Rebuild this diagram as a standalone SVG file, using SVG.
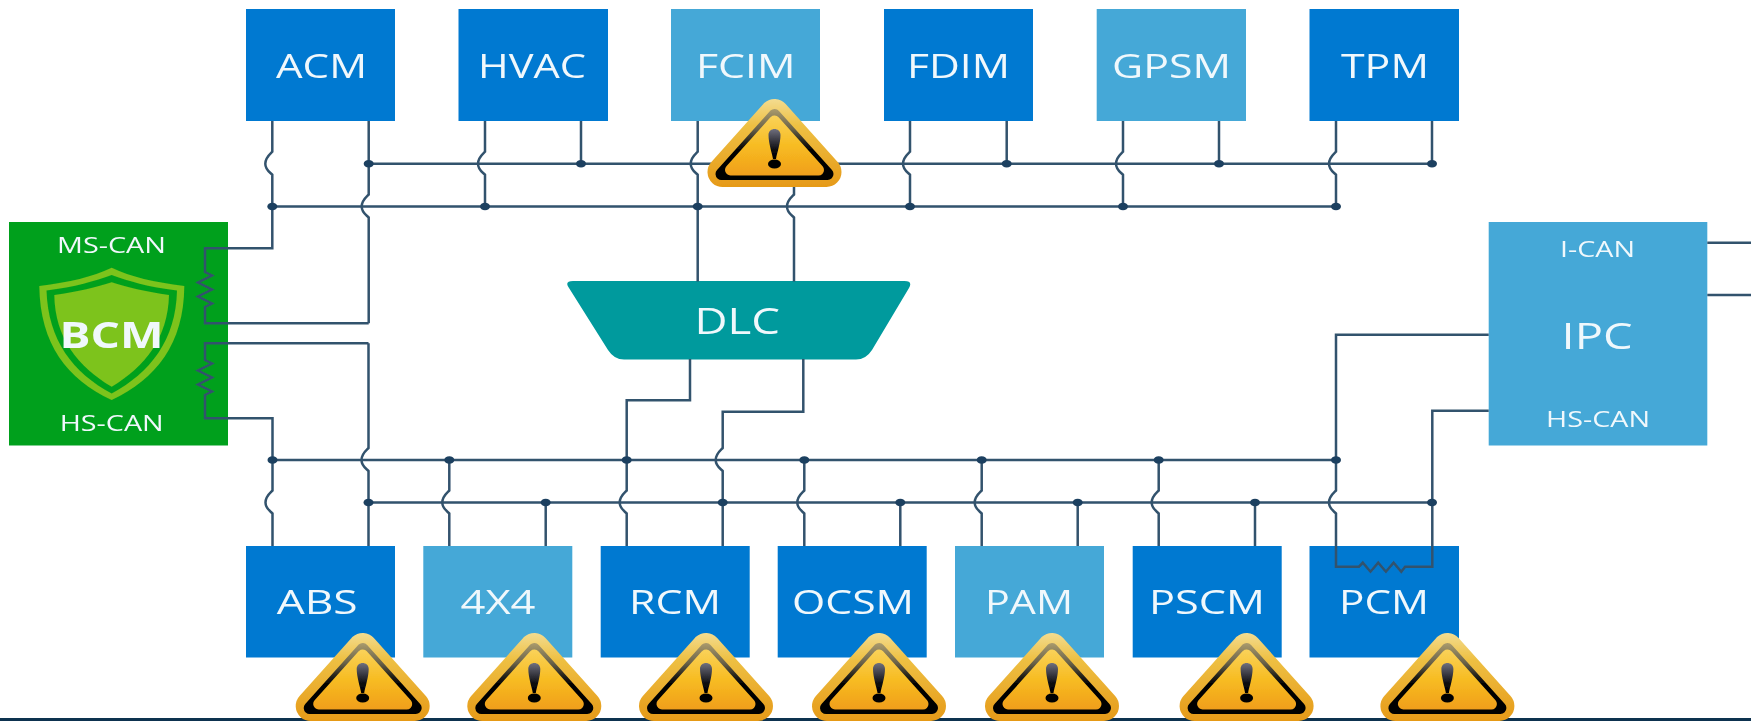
<svg xmlns="http://www.w3.org/2000/svg" width="1751" height="721" viewBox="0 0 1751 721">
<style>
.dk{fill:#0379d1}
.lt{fill:#44a8d7}
text{font-family:"Open Sans","Noto Sans","Liberation Sans",sans-serif;fill:#f0f8fc}
.lb{font-size:33px}
.sm{font-size:21.5px}
.wire{fill:none;stroke:#33526d;stroke-width:2.5;stroke-linejoin:miter}
.dot{fill:#1f4160}
</style>
<defs>
<filter id="soft" x="0" y="0" width="100%" height="100%" filterUnits="objectBoundingBox"><feGaussianBlur stdDeviation="0.5"/></filter>
<linearGradient id="gold" gradientUnits="userSpaceOnUse" x1="0" y1="0" x2="0" y2="88"><stop offset="0" stop-color="#f3dc90"/><stop offset="0.3" stop-color="#eec043"/><stop offset="1" stop-color="#e69a18"/></linearGradient>
<linearGradient id="fillY" gradientUnits="userSpaceOnUse" x1="0" y1="15" x2="0" y2="78"><stop offset="0" stop-color="#fad35c"/><stop offset="0.5" stop-color="#f7bc22"/><stop offset="1" stop-color="#f09d1a"/></linearGradient>
<linearGradient id="ring" gradientUnits="userSpaceOnUse" x1="0" y1="8" x2="0" y2="81"><stop offset="0" stop-color="#b0a070"/><stop offset="0.3" stop-color="#6a6249"/><stop offset="0.48" stop-color="#24221a"/><stop offset="0.6" stop-color="#000"/><stop offset="1" stop-color="#000"/></linearGradient>
<linearGradient id="excl" x1="0" y1="0" x2="0" y2="1"><stop offset="0" stop-color="#70707e"/><stop offset="0.7" stop-color="#0a0a0e"/><stop offset="1" stop-color="#000"/></linearGradient>
<g id="warn">
<path d="M0 15L-52 73H52Z" fill="url(#gold)" stroke="url(#gold)" stroke-width="30" stroke-linejoin="round"/>
<path d="M0 16L-53 75H53Z" fill="url(#ring)" stroke="url(#ring)" stroke-width="12" stroke-linejoin="round"/>
<path d="M0 22L-44 71H44Z" fill="url(#fillY)" stroke="url(#fillY)" stroke-width="11" stroke-linejoin="round"/>
<path d="M-6 36C-6 28 6 28 6 36C6 44 2.5 54 1.5 60H-1.5C-2.5 54 -6 44 -6 36Z" fill="url(#excl)"/>
<ellipse cx="0" cy="65" rx="6.5" ry="4.5" fill="#000"/>
</g>
</defs>
<rect width="1751" height="721" fill="#fff"/>
<g filter="url(#soft)">
<rect id="bottom-bar" x="0" y="718" width="1751" height="4" fill="#0d3350"/>

<g id="ACM"><rect class="dk" x="246" y="9" width="149" height="112"/><text class="lb" x="276" y="78.3" textLength="91" lengthAdjust="spacingAndGlyphs">ACM</text></g>
<g id="HVAC"><rect class="dk" x="458.5" y="9" width="149.5" height="112"/><text class="lb" x="478" y="78.3" textLength="108" lengthAdjust="spacingAndGlyphs">HVAC</text></g>
<g id="FCIM"><rect class="lt" x="671" y="9" width="149" height="112"/><text class="lb" x="696" y="78.3" textLength="99.5" lengthAdjust="spacingAndGlyphs">FCIM</text></g>
<g id="FDIM"><rect class="dk" x="884" y="9" width="149" height="112"/><text class="lb" x="907" y="78.3" textLength="103" lengthAdjust="spacingAndGlyphs">FDIM</text></g>
<g id="GPSM"><rect class="lt" x="1096.7" y="9" width="149.3" height="112"/><text class="lb" x="1112" y="78.3" textLength="119" lengthAdjust="spacingAndGlyphs">GPSM</text></g>
<g id="TPM"><rect class="dk" x="1309.5" y="9" width="149.5" height="112"/><text class="lb" x="1341" y="78.3" textLength="88" lengthAdjust="spacingAndGlyphs">TPM</text></g>

<g id="ABS"><rect class="dk" x="246" y="546" width="149" height="111.5"/><text class="lb" x="276.7" y="613.5" textLength="81" lengthAdjust="spacingAndGlyphs">ABS</text></g>
<g id="4X4"><rect class="lt" x="423.3" y="546" width="149" height="111.5"/><text class="lb" x="460.5" y="613.5" textLength="75" lengthAdjust="spacingAndGlyphs">4X4</text></g>
<g id="RCM"><rect class="dk" x="600.7" y="546" width="149" height="111.5"/><text class="lb" x="629" y="613.5" textLength="92" lengthAdjust="spacingAndGlyphs">RCM</text></g>
<g id="OCSM"><rect class="dk" x="777.7" y="546" width="149" height="111.5"/><text class="lb" x="792" y="613.5" textLength="122" lengthAdjust="spacingAndGlyphs">OCSM</text></g>
<g id="PAM"><rect class="lt" x="955" y="546" width="149" height="111.5"/><text class="lb" x="985" y="613.5" textLength="88" lengthAdjust="spacingAndGlyphs">PAM</text></g>
<g id="PSCM"><rect class="dk" x="1132.7" y="546" width="149" height="111.5"/><text class="lb" x="1149" y="613.5" textLength="116" lengthAdjust="spacingAndGlyphs">PSCM</text></g>
<g id="PCM"><rect class="dk" x="1309.5" y="546" width="149.5" height="111.5"/><text class="lb" x="1339" y="613.5" textLength="90" lengthAdjust="spacingAndGlyphs">PCM</text></g>

<g id="DLC"><path d="M573 281H904.5Q913 281 909 288L872 350Q866 359.5 856 359.5H624Q614 359.5 608 350L569 288Q564 281 573 281Z" fill="#009a9d"/><text x="694.5" y="333.5" font-size="37" textLength="85.5" lengthAdjust="spacingAndGlyphs">DLC</text></g>

<g id="BCM"><rect x="9" y="222" width="219" height="223.5" fill="#04a01f"/>
<path d="M39.3 286C70 282 92 277 111.7 267.7C131 277 154 282 184.3 286C184 344 156 379 111.7 400C67 379 40 344 39.3 286Z" fill="#7dc31a"/>
<path d="M46.5 290.5C75 287 95 281 111.7 275C128 281 148 287 177 290.5C176 340 150 373 111.7 393.5C73 373 48 340 46.5 290.5Z" fill="#04a01f"/>
<path d="M54.3 295C78 292 97 287 111.7 282.3C126 287 146 292 169 295C168 338 145 367 111.7 386.7C78 367 55 338 54.3 295Z" fill="#7dc31a"/>
<text class="sm" x="57" y="252.7" textLength="109" lengthAdjust="spacingAndGlyphs">MS-CAN</text>
<text x="59.5" y="348.3" font-size="35" font-weight="700" textLength="104" lengthAdjust="spacingAndGlyphs">BCM</text>
<text class="sm" x="59.7" y="430.7" textLength="104" lengthAdjust="spacingAndGlyphs">HS-CAN</text></g>

<g id="IPC"><rect class="lt" x="1488.7" y="222" width="218.6" height="223.5"/>
<text x="1560" y="256.7" font-size="21.5" textLength="75" lengthAdjust="spacingAndGlyphs">I-CAN</text>
<text x="1561.5" y="349.3" font-size="36" textLength="71" lengthAdjust="spacingAndGlyphs">IPC</text>
<text class="sm" x="1546" y="427.3" textLength="104" lengthAdjust="spacingAndGlyphs">HS-CAN</text></g>

<g id="connectors">
<path class="wire" d="M368.7 163.7H1432M272.3 206.5H1336M272.5 460H1336M368.5 502.5H1432"/>
<path class="wire" d="M272.3 121V151.7c-3,3 -7,6 -7,12c0,6 4,8 7,11V248.3H205V272l7,3.5l-14,7 14,7 -14,7 14,7l-7,3.5V323.3H368.7"/>
<path class="wire" d="M368.7 121V194.5c-3,3 -7,6 -7,12c0,6 4,8 7,11V323.3"/>
<path class="wire" d="M485 121V151.7c-3,3 -7,6 -7,12c0,6 4,8 7,11V206.5M581 121V163.7"/>
<path class="wire" d="M697.7 121V151.7c-3,3 -7,6 -7,12c0,6 4,8 7,11V281.5M794 165V194.5c-3,3 -7,6 -7,12c0,6 4,8 7,11V281.5"/>
<path class="wire" d="M910 121V151.7c-3,3 -7,6 -7,12c0,6 4,8 7,11V206.5M1006.7 121V163.7"/>
<path class="wire" d="M1123 121V151.7c-3,3 -7,6 -7,12c0,6 4,8 7,11V206.5M1219 121V163.7"/>
<path class="wire" d="M1336 121V151.7c-3,3 -7,6 -7,12c0,6 4,8 7,11V206.5M1432 121V163.7"/>
<path class="wire" d="M368.5 343.3H205V360l7,3.5l-14,7 14,7 -14,7 14,7l-7,3.5V418.3H272.5V490.5c-3,3 -7,6 -7,12c0,6 4,8 7,11V546"/>
<path class="wire" d="M368.5 343.3V448c-3,3 -7,6 -7,12c0,6 4,8 7,11V546"/>
<path class="wire" d="M449.3 460V490.5c-3,3 -7,6 -7,12c0,6 4,8 7,11V546M545.7 502.5V546"/>
<path class="wire" d="M690 359V400.3H626.7V490.5c-3,3 -7,6 -7,12c0,6 4,8 7,11V546"/>
<path class="wire" d="M803.3 359V411.7H722.7V448c-3,3 -7,6 -7,12c0,6 4,8 7,11V546"/>
<path class="wire" d="M804.3 460V490.5c-3,3 -7,6 -7,12c0,6 4,8 7,11V546M900.3 502.5V546"/>
<path class="wire" d="M981.7 460V490.5c-3,3 -7,6 -7,12c0,6 4,8 7,11V546M1077.7 502.5V546"/>
<path class="wire" d="M1158.7 460V490.5c-3,3 -7,6 -7,12c0,6 4,8 7,11V546M1255 502.5V546"/>
<path class="wire" d="M1488.7 334.7H1336V490.5c-3,3 -7,6 -7,12c0,6 4,8 7,11V566.7H1359l3.8,-4 7.7,9 7.7,-9 7.7,9 7.7,-9 7.7,9 3.8,-5H1432.3V410.7H1488.7"/>
<path class="wire" d="M1707.3 242.7H1751M1707.3 295H1751"/>
<g class="dot">
<ellipse cx="368.7" cy="163.7" rx="5" ry="3.8"/><ellipse cx="581" cy="163.7" rx="5" ry="3.8"/><ellipse cx="1006.7" cy="163.7" rx="5" ry="3.8"/><ellipse cx="1219" cy="163.7" rx="5" ry="3.8"/><ellipse cx="1432" cy="163.7" rx="5" ry="3.8"/>
<ellipse cx="272.3" cy="206.5" rx="5" ry="3.8"/><ellipse cx="485" cy="206.5" rx="5" ry="3.8"/><ellipse cx="697.7" cy="206.5" rx="5" ry="3.8"/><ellipse cx="910" cy="206.5" rx="5" ry="3.8"/><ellipse cx="1123" cy="206.5" rx="5" ry="3.8"/><ellipse cx="1336" cy="206.5" rx="5" ry="3.8"/>
<ellipse cx="272.5" cy="460" rx="5" ry="3.8"/><ellipse cx="449.3" cy="460" rx="5" ry="3.8"/><ellipse cx="626.7" cy="460" rx="5" ry="3.8"/><ellipse cx="804.3" cy="460" rx="5" ry="3.8"/><ellipse cx="981.7" cy="460" rx="5" ry="3.8"/><ellipse cx="1158.7" cy="460" rx="5" ry="3.8"/><ellipse cx="1336" cy="460" rx="5" ry="3.8"/>
<ellipse cx="368.5" cy="502.5" rx="5" ry="3.8"/><ellipse cx="545.7" cy="502.5" rx="5" ry="3.8"/><ellipse cx="722.7" cy="502.5" rx="5" ry="3.8"/><ellipse cx="900.3" cy="502.5" rx="5" ry="3.8"/><ellipse cx="1077.7" cy="502.5" rx="5" ry="3.8"/><ellipse cx="1255" cy="502.5" rx="5" ry="3.8"/><ellipse cx="1432" cy="502.5" rx="5" ry="3.8"/>
</g>
</g>

<g id="warnings">
<use href="#warn" x="774.5" y="99"/>
<use href="#warn" x="362.7" y="633"/>
<use href="#warn" x="534.3" y="633"/>
<use href="#warn" x="706" y="633"/>
<use href="#warn" x="879" y="633"/>
<use href="#warn" x="1052" y="633"/>
<use href="#warn" x="1246.6" y="633"/>
<use href="#warn" x="1447.4" y="633"/>
</g>
</g>
</svg>
